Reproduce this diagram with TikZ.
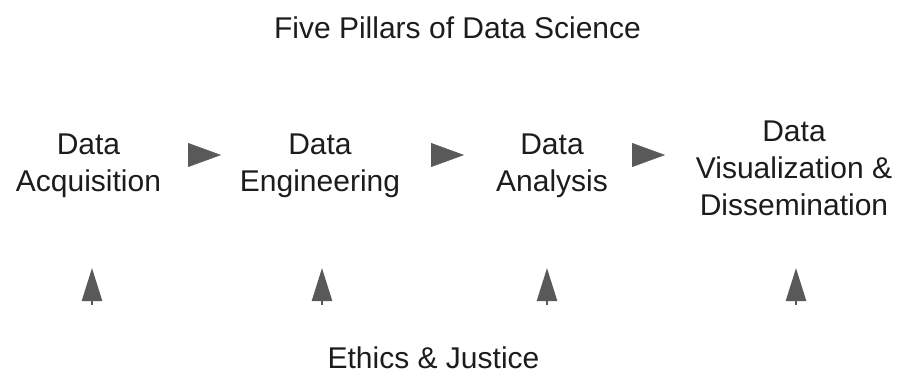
\documentclass[tikz,border=0pt]{standalone}
\usepackage{fontspec}
\setmainfont{Liberation Sans}
\usetikzlibrary{arrows.meta,positioning}
\definecolor{arrowgray}{HTML}{595959}
\definecolor{textgray}{HTML}{1C1C1C}

\begin{document}
\begin{tikzpicture}[x=1pt,y=-1pt,
    pillar/.style={align=center,anchor=base,inner sep=0pt,text=textgray,
      font=\fontsize{30}{37}\selectfont},
    flow/.style={arrowgray,-{Triangle[length=33pt,width=24pt]}},
    support/.style={arrowgray,line width=2.5pt,-{Triangle[length=33pt,width=20pt]}}]
      \useasboundingbox (0,0) rectangle (899,373);
      \node[pillar] (title) at (457.5,38) {Five Pillars of Data Science};

        \node[pillar] (acq) at (88.5,191) {Data\\Acquisition};
        \node[pillar] (eng) at (320,191) {Data\\Engineering};
        \node[pillar] (ana) at (552,191) {Data\\Analysis};
        \node[pillar] (vis) at (794,215) {Data\\Visualization \&\\Dissemination};
      \node[pillar] (eth) at (433.5,368) {Ethics \& Justice};

      % arrows between the pillars
      \coordinate (f1a) at (188,155); \coordinate (f1b) at (221,155);
      \coordinate (f2a) at (431,155); \coordinate (f2b) at (464,155);
      \coordinate (f3a) at (632,155); \coordinate (f3b) at (665,155);
        \draw [flow] (f1a) -- (f1b);
        \draw [flow] (f2a) -- (f2b);
        \draw [flow] (f3a) -- (f3b);

      % ethics under every pillar
      \foreach \x/\n in {92/1,322/2,547/3,796/4} {
        \coordinate (s\n a) at (\x,305); \coordinate (s\n b) at (\x,268);
        \draw [support] (s\n a) -- (s\n b);
      }
    \end{tikzpicture}
\end{document}
